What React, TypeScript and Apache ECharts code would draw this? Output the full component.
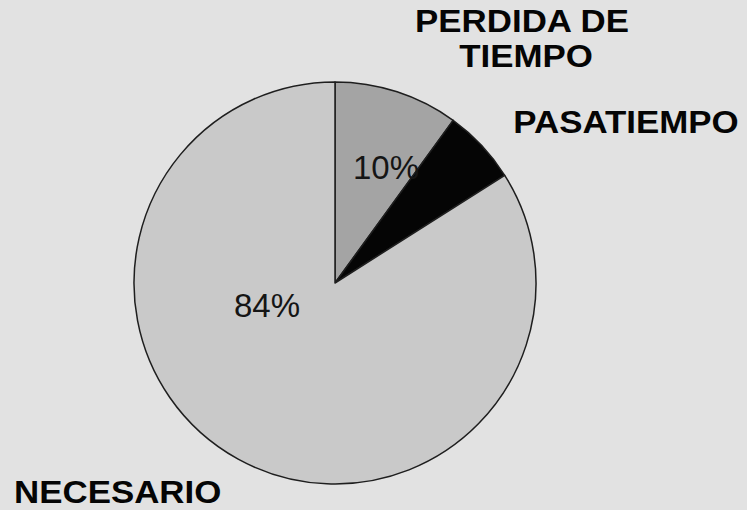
import React, { useEffect, useRef } from "react";
import * as echarts from "echarts";

const categories = ["PERDIDA DE TIEMPO", "PASATIEMPO", "NECESARIO"];
const nameLines = [["PERDIDA DE", "TIEMPO"], ["PASATIEMPO"], ["NECESARIO"]];
const values = [10, 6, 84];
const showPercent = [true, false, true];
const sliceColors = ["#a4a4a4", "#050505", "#c9c9c9"];

export default function App() {
  const ref = useRef<HTMLDivElement>(null);
  useEffect(() => {
    if (!ref.current) return;
    const chart = echarts.init(ref.current, undefined, { renderer: "svg" });
    const pctPos: Record<number, [number, number]> = { 0: [386, 167], 2: [267, 305] };
    const namePos: { x: number; y: number; align: string }[] = [
      { x: 522, y: 21, align: "center" },
      { x: 626, y: 122, align: "center" },
      { x: 14, y: 492, align: "left" },
    ];
    const graphics: any[] = [];
    nameLines.forEach((lines, i) => {
      lines.forEach((line, j) => {
        graphics.push({
          type: "text",
          x: namePos[i].x + (j > 0 ? 4 : 0),
          y: namePos[i].y + j * 35,
          scaleX: 1.09,
          style: {
            text: line,
            fontFamily: "Liberation Sans",
            fontWeight: "bold",
            fontSize: 32,
            fill: "#050505",
            align: namePos[i].align,
            verticalAlign: "middle",
          },
        });
      });
    });
    chart.setOption({
      animation: false,
      backgroundColor: "#e2e2e2",
      series: [
        {
          type: "pie",
          center: [335, 283],
          radius: [0, 201],
          startAngle: 90,
          clockwise: true,
          silent: true,
          data: categories.map((name, i) => ({
            name,
            value: values[i],
            itemStyle: { color: sliceColors[i] },
            label: { show: showPercent[i] },
          })),
          itemStyle: { borderColor: "#1e1e1e", borderWidth: 1.5 },
          label: {
            position: "inside",
            formatter: (p: any) => `${values[p.dataIndex]}%`,
            fontFamily: "Liberation Sans",
            fontSize: 33,
            color: "#151515",
          },
          labelLine: { show: false },
          labelLayout: (p: any) => {
            const pos = pctPos[p.dataIndex];
            return pos ? { x: pos[0], y: pos[1], align: "center", verticalAlign: "middle" } : {};
          },
        },
      ],
      graphic: graphics,
    });
    return () => chart.dispose();
  }, []);
  return (
    <div
      ref={ref}
      style={{ position: "absolute", left: 0, top: 0, width: 747, height: 510 }}
    />
  );
}
